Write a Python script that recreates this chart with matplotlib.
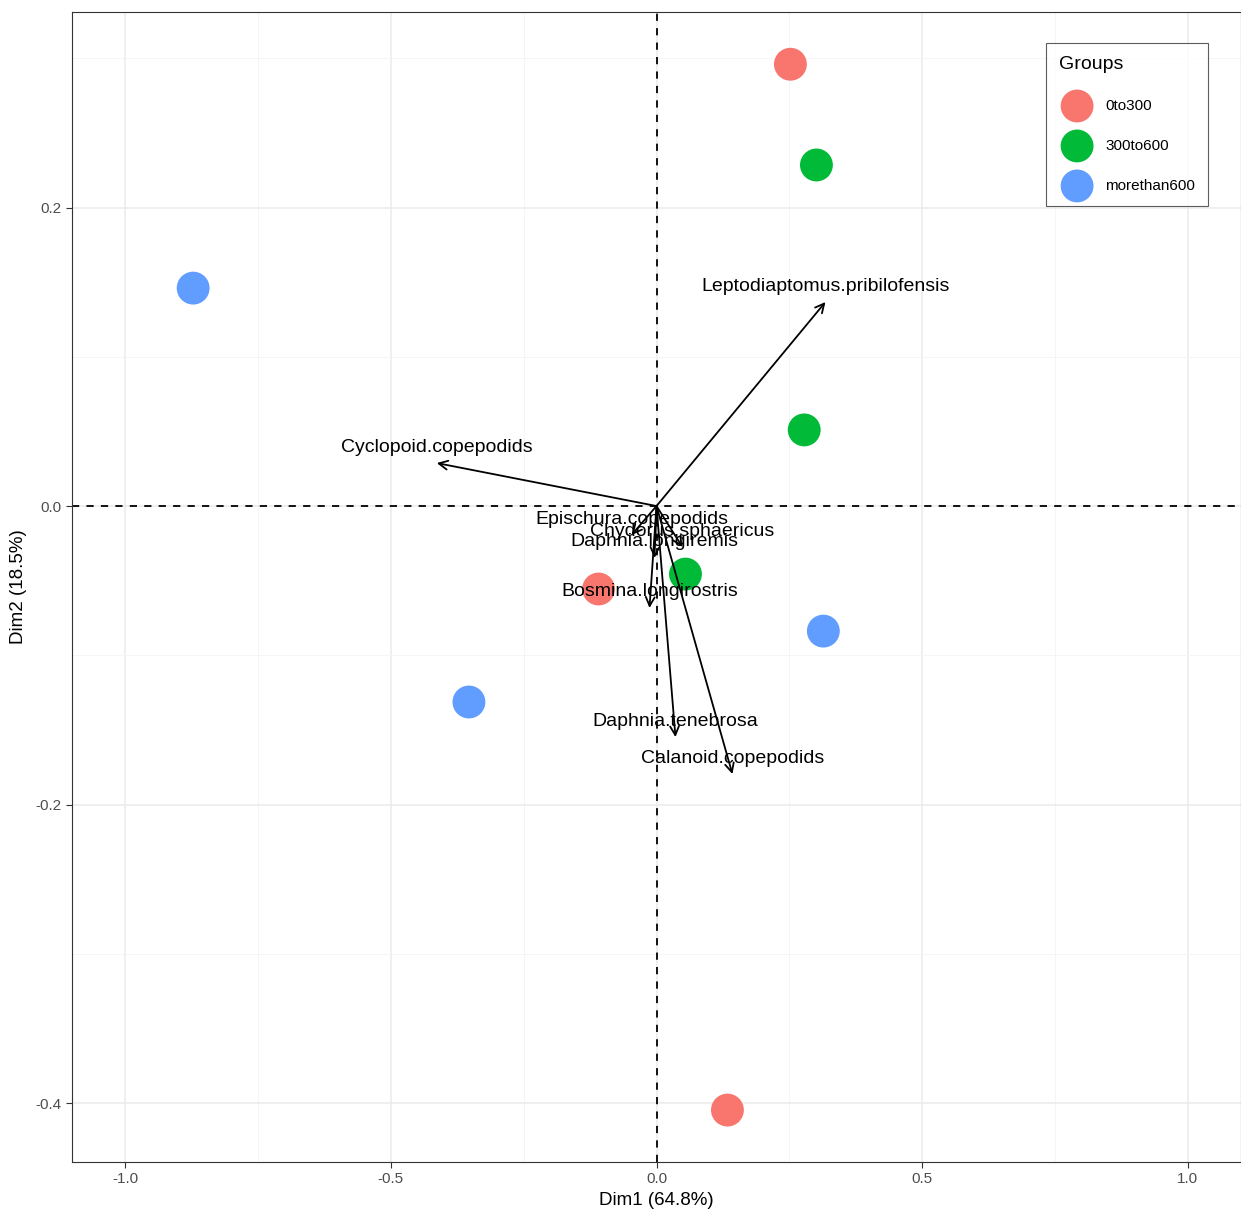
import matplotlib.pyplot as plt

plt.rcParams['font.family'] = ['Liberation Sans', 'DejaVu Sans']
plt.rcParams['axes.unicode_minus'] = False

# individuals (PCA scores) by group
groups = ['0to300', '300to600', 'morethan600']
colors = ['#F8766D', '#00BA38', '#619CFF']
dim1 = {
    '0to300': [0.252, -0.109, 0.1335],
    '300to600': [0.301, 0.278, 0.0545],
    'morethan600': [-0.872, 0.314, -0.353],
}
dim2 = {
    '0to300': [0.296, -0.0556, -0.4047],
    '300to600': [0.2285, 0.051, -0.0456],
    'morethan600': [0.146, -0.0838, -0.1313],
}

# variable loadings
species = ['Leptodiaptomus.pribilofensis', 'Cyclopoid.copepodids', 'Epischura.copepodids',
           'Chydorus.sphaericus', 'Daphnia.longiremis', 'Bosmina.longirostris',
           'Daphnia.tenebrosa', 'Calanoid.copepodids']
load1 = [0.318, -0.4135, -0.047, 0.0489, -0.0038, -0.0132, 0.0357, 0.1429]
load2 = [0.1367, 0.0288, -0.0194, -0.0275, -0.0348, -0.0683, -0.1548, -0.1796]

fig = plt.figure(figsize=(12.41, 12.12), dpi=100)
ax = fig.add_axes([72 / 1241, 50 / 1212, 1169 / 1241, 1150 / 1212])

ax.set_xlim(-1.1, 1.1)
ax.set_ylim(-0.4395, 0.331)

ax.set_xticks([-1.0, -0.5, 0.0, 0.5, 1.0])
ax.set_xticks([-0.75, -0.25, 0.25, 0.75], minor=True)
ax.set_yticks([-0.4, -0.2, 0.0, 0.2])
ax.set_yticks([-0.3, -0.1, 0.1, 0.3], minor=True)
ax.grid(True, which='major', color='#EBEBEB', linewidth=1.1)
ax.grid(True, which='minor', color='#F4F4F4', linewidth=0.6)
ax.set_axisbelow(True)
ax.tick_params(which='major', length=4, color='#333333', width=0.8,
               labelsize=11, labelcolor='#4D4D4D')
ax.tick_params(which='minor', length=0)
for s in ax.spines.values():
    s.set_color('#333333')
    s.set_linewidth(0.8)

ax.axhline(0, color='black', linestyle=(0, (4, 4)), linewidth=1.3, zorder=1)
ax.axvline(0, color='black', linestyle=(0, (4, 4)), linewidth=1.3, zorder=1)

for g, c in zip(groups, colors):
    ax.scatter(dim1[g], dim2[g], s=560, color=c, edgecolors='none', label=g, zorder=2)

for name, x, y in zip(species, load1, load2):
    ax.annotate('', xy=(x, y), xytext=(0, 0),
                arrowprops=dict(arrowstyle='->', color='black', lw=1.3,
                                mutation_scale=16, shrinkA=0, shrinkB=0),
                zorder=3)
    ax.annotate(name, xy=(x, y), xytext=(0, 11.5), textcoords='offset points',
                ha='center', va='center', fontsize=14, color='black', zorder=4)

ax.set_xlabel('Dim1 (64.8%)', fontsize=13.5, labelpad=4)
ax.set_ylabel('Dim2 (18.5%)', fontsize=13.5, labelpad=6)

leg = ax.legend(title='Groups', loc='upper left', bbox_to_anchor=(0.833, 0.973),
                borderaxespad=0, fontsize=11, title_fontsize=14, fancybox=False,
                edgecolor='#333333', markerscale=1.0, labelspacing=1.7,
                handlelength=2.4, handletextpad=0.65, borderpad=0.85,
                alignment='left')
leg.get_frame().set_linewidth(0.8)

fig.savefig('out.png', dpi=100)
